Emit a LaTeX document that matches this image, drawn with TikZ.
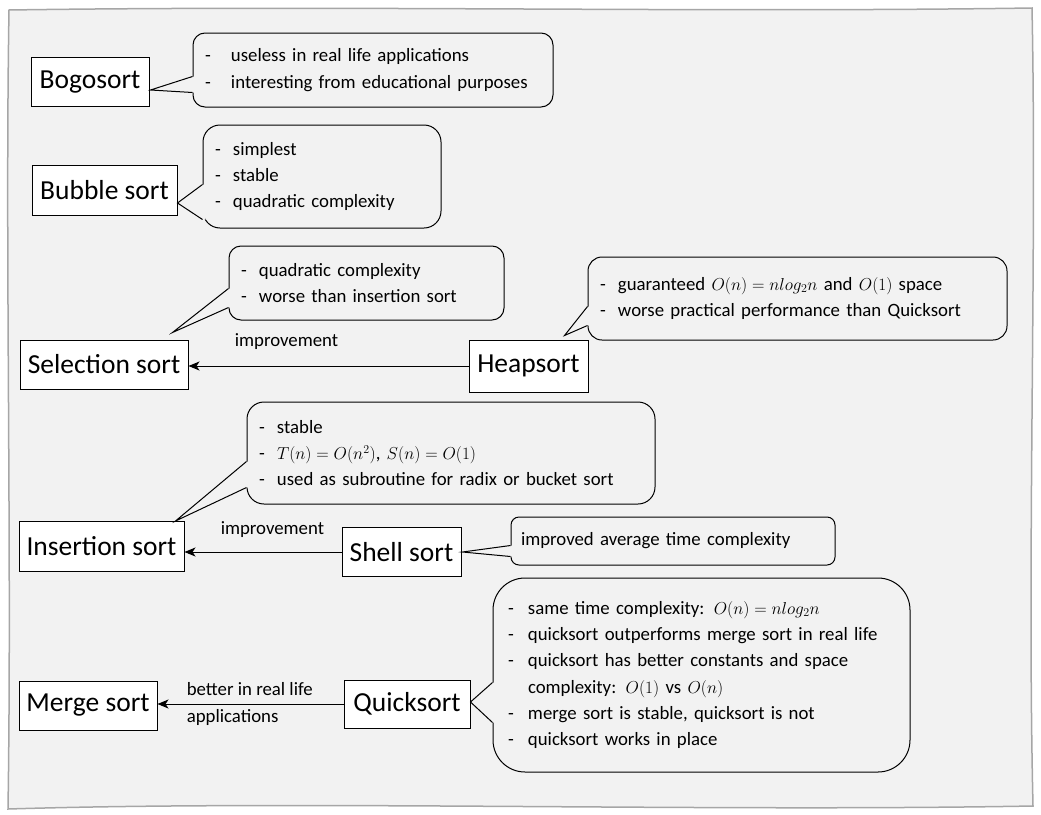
\documentclass[tikz,border=0pt]{standalone}
\usepackage{fontspec}
\setmainfont{Carlito}
\usetikzlibrary{arrows.meta, positioning, calc}

\definecolor{paper}{HTML}{F2F2F2}
\newcommand{\bigf}{\fontsize{27.5pt}{33pt}\selectfont}
\newcommand{\smallf}{\fontsize{18.8pt}{26.3pt}\selectfont}
\newcommand{\itm}[1][18pt]{\makebox[#1][l]{-}}
% note, tip, upper and lower offset from the top of the note
\newcommand{\pointer}[4]{%
  \fill[paper] ($(#1.north west)+(0,#3)$) -- (#2) -- ($(#1.north west)+(0,#4)$) -- ($(#1.north west)+(3,#4)$) -- ($(#1.north west)+(3,#3)$) -- cycle;
  \draw[line width=1pt] ($(#1.north west)+(0,#3)$) -- (#2) -- ($(#1.north west)+(0,#4)$);}

\begin{document}
\begin{tikzpicture}[x=1pt, y=-1pt,
    algo/.style={draw, fill=white, line width=1pt, font=\bigf, inner sep=0pt},
    note/.style={draw, fill=paper, line width=1pt, font=\smallf, align=left, inner xsep=12pt, inner ysep=0pt},
    arr/.style={-{Stealth[length=11pt, width=9pt, inset=3pt]}, line width=1pt},
    lbl/.style={font=\smallf, inner sep=0pt}]
	\useasboundingbox (0,0) rectangle (1041,814);
	% sheet
	\draw[fill=paper, draw=gray!70, line width=1.5pt] (9,10) .. controls (350,5) and (700,13) .. (1032,8) .. controls (1037,250) and (1027,550) .. (1033,806) .. controls (700,812) and (300,800) .. (8,809) .. controls (12,550) and (5,250) .. cycle;

	% algorithms
	\node[algo, minimum width=118, minimum height=49] (bogo) at (90,82) {Bogosort};
	\node[algo, minimum width=145, minimum height=50] (bubble) at (104.5,190) {Bubble sort};
	\node[algo, minimum width=168, minimum height=49] (selection) at (104,364.5) {Selection sort};
	\node[algo, minimum width=119, minimum height=52] (heap) at (528.5,366) {Heapsort};
	\node[algo, minimum width=165, minimum height=50] (insertion) at (101.5,546.5) {Insertion sort};
	\node[algo, minimum width=119, minimum height=49] (shell) at (401.5,552) {Shell sort};
	\node[algo, minimum width=138, minimum height=49] (merge) at (88,705.5) {Merge sort};
	\node[algo, minimum width=126, minimum height=48] (quick) at (407,704) {Quicksort};

	% notes
	\node[note, rounded corners=12pt, text width=336pt, minimum height=74] (bogonote) at (373,70)
		{\itm[26pt]useless in real life applications\\ \itm[26pt]interesting from educational purposes};
	\node[note, rounded corners=17pt, text width=214pt, minimum height=103] (bubblenote) at (322,176.5)
		{\itm simplest\\ \itm stable\\ \itm quadratic complexity};
	\node[note, rounded corners=12pt, text width=251pt, minimum height=74] (selnote) at (366.5,283)
		{\itm quadratic complexity\\ \itm worse than insertion sort};
	\node[note, rounded corners=14pt, text width=395pt, minimum height=83] (heapnote) at (797.5,298.5)
		{\itm guaranteed $O(n)=nlog_2n$ and $O(1)$ space\\ \itm worse practical performance than Quicksort};
	\node[note, rounded corners=17pt, text width=384pt, minimum height=102] (insnote) at (451,453)
		{\itm stable\\ \itm $T(n)=O(n^2)$, $S(n)=O(1)$\\ \itm used as subroutine for radix or bucket sort};
	\node[note, rounded corners=8pt, inner xsep=10pt, text width=304pt, minimum height=48] (shellnote) at (673,541)
		{improved average time complexity};
	\node[note, rounded corners=32pt, inner xsep=15pt, text width=387pt, minimum height=194] (quicknote) at (701.5,675)
		{\itm[20pt]same time complexity: $O(n)=nlog_2n$\\ \itm[20pt]quicksort outperforms merge sort in real life\\
		 \itm[20pt]quicksort has better constants and space\\ \hspace*{20pt}complexity: $O(1)$ vs $O(n)$\\
		 \itm[20pt]merge sort is stable, quicksort is not\\ \itm[20pt]quicksort works in place};

	% pointers
	\coordinate (bogotip) at ($(bogo.east)+(1,8)$);
	\coordinate (bubbletip) at ($(bubble.east)+(0,13)$);
	\coordinate (seltip) at ($(selection.north east)+(-16,-7)$);
	\coordinate (heaptip) at ($(heap.north east)+(-24,-4)$);
	\coordinate (instip) at ($(insertion.north east)+(-9,0)$);
	\coordinate (shelltip) at ($(shell.east)+(1,0)$);
	\coordinate (quicktip) at ($(quick.east)+(0,-2)$);
	\pointer{bogonote}{bogotip}{44}{60}
	\pointer{bubblenote}{bubbletip}{60}{95}
	\pointer{selnote}{seltip}{43}{62}
	\pointer{heapnote}{heaptip}{50}{69}
	\pointer{insnote}{instip}{60}{86}
	\pointer{shellnote}{shelltip}{29}{40}
	\pointer{quicknote}{quicktip}{105}{145}

	% improvements
	\draw[arr] (heap.west) -- (selection.east |- heap.west) node[lbl, pos=0.65, above=16pt] {improvement};
	\draw[arr] (shell.west) -- (insertion.east |- shell.west) node[lbl, pos=0.44, above=13.5pt] {improvement};
	\draw[arr] (quick.west) -- (merge.east |- quick.west) node[lbl, pos=0.845, anchor=west, align=left, font=\fontsize{18.8pt}{27pt}\selectfont] {better in real life\\ applications};
\end{tikzpicture}
\end{document}
